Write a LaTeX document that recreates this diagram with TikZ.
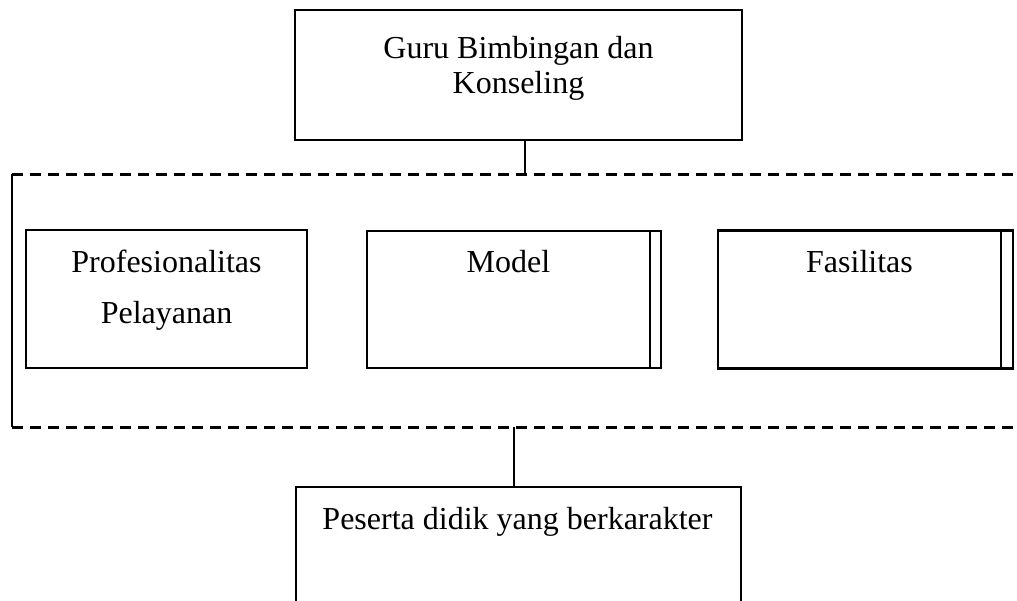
\documentclass[tikz,border=0pt]{standalone}
\usepackage{fontspec}
\setmainfont{Liberation Serif}
\begin{document}
\begin{tikzpicture}[x=1pt,y=-1pt,
  box/.style={draw, line width=2.5pt, inner sep=0pt, outer sep=0pt},
  lbl/.style={inner sep=0pt, outer sep=0pt, font=\fontsize{32}{35}\selectfont},
  dashline/.style={line width=3pt, dash pattern=on 11pt off 7pt},
  conn/.style={line width=2.5pt}]
\clip (0,0) rectangle (1017,600);
% boxes
\node[box, minimum width=447pt, minimum height=130pt] (guru) at (518.5,75) {};
\node[box, minimum width=281pt, minimum height=138pt] (prof) at (166.5,299) {};
\node[box, minimum width=294pt, minimum height=137pt] (model) at (514,299.5) {};
\node[box, minimum width=295pt, minimum height=138pt] (fas) at (865.5,299.5) {};
\node[box, minimum width=445pt, minimum height=140pt] (peserta) at (518.5,557) {};
% double right edges
\coordinate (mi) at ([xshift=-11pt]model.north east);
\draw[conn] (mi) -- (mi |- model.south);
\coordinate (fi) at ([xshift=-12pt]fas.north east);
\draw[conn] (fi) -- (fi |- fas.south);
% texts
\node[lbl, align=center, anchor=north] (gurut) at (518.5,36.5) {Guru Bimbingan dan\\Konseling};
\node[lbl, align=center, anchor=north, font=\fontsize{32}{51}\selectfont] (proft) at (166.5,249.8) {Profesionalitas\\Pelayanan};
\node[lbl, anchor=base] (modelt) at (508.5,272.3) {Model};
\node[lbl, anchor=base] (fast) at (859.5,272) {Fasilitas};
\node[lbl, anchor=base] (pesertat) at (517.5,529) {Peserta didik yang berkarakter};
% dashed frame
\coordinate (dtl) at (12,174);
\coordinate (dtr) at (1017,174);
\coordinate (dbl) at (12,427);
\coordinate (dbr) at (1017,427);
\draw[dashline] (dtl) -- (dtr);
\draw[dashline] (dbl) -- (dbr);
\draw[line width=2.4pt] (dtl) -- (dbl);
% connectors
\coordinate (c1) at ([xshift=6.5pt]guru.south);
\draw[conn] (c1) -- (c1 |- dtl);
\coordinate (c2) at ([xshift=-4.5pt]peserta.north);
\draw[conn] (c2 |- dbl) -- (c2);
\end{tikzpicture}
\end{document}
